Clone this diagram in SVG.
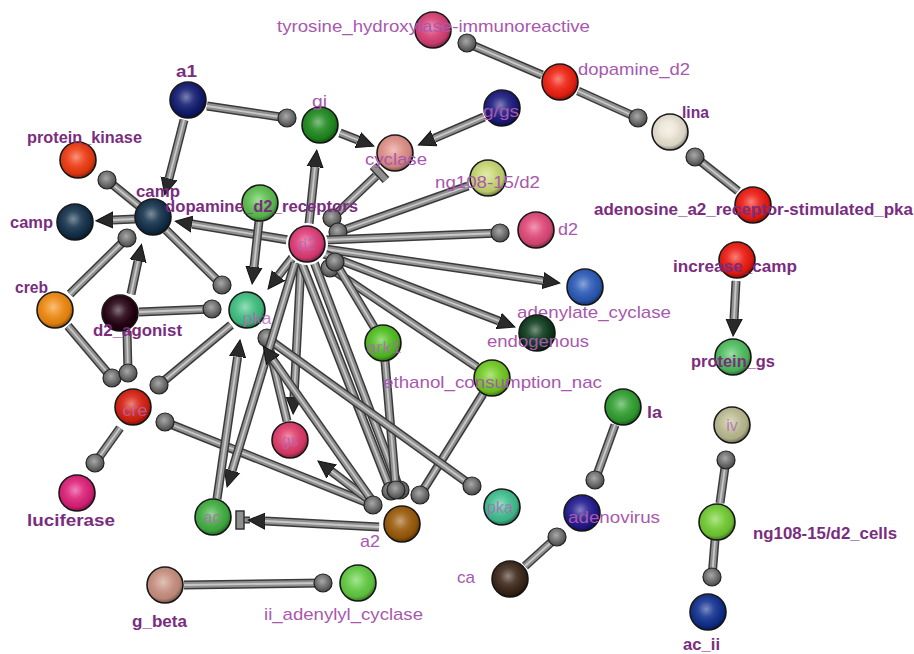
<svg xmlns="http://www.w3.org/2000/svg" width="914" height="654" viewBox="0 0 914 654">
<defs>
<radialGradient id="shade" cx="0.45" cy="0.42" r="0.62">
<stop offset="0" stop-color="#fff" stop-opacity="0.45"/>
<stop offset="0.35" stop-color="#fff" stop-opacity="0.12"/>
<stop offset="0.75" stop-color="#000" stop-opacity="0.08"/>
<stop offset="1" stop-color="#000" stop-opacity="0.55"/>
</radialGradient>
<radialGradient id="ballg" cx="0.45" cy="0.4" r="0.65">
<stop offset="0" stop-color="#a8a8a8"/>
<stop offset="1" stop-color="#404040"/>
</radialGradient>
<marker id="arr" viewBox="0 -9 18 18" refX="0" refY="0" markerWidth="18" markerHeight="18" markerUnits="userSpaceOnUse" orient="auto">
<path d="M0,-8 L17,0 L0,8 Z" fill="#2a2a2a" stroke="#111" stroke-width="1"/>
</marker>
</defs>
<style>
.o{fill:none;stroke:#3a3a3a;stroke-width:9}
.i{fill:none;stroke:#8f8f8f;stroke-width:6}
.h{fill:none;stroke:#c8c8c8;stroke-width:1.8}
.ball{fill:url(#ballg);stroke:#222;stroke-width:1.2}
.cap{fill:#8f8f8f;stroke:#333;stroke-width:1.5}
.b{stroke:#1a1a1a;stroke-width:1.6}
.sh{fill:url(#shade)}
text{font-family:"Liberation Sans",Arial,sans-serif}
.ln{font-size:17px;fill:#a858ae}
.lb{font-size:17px;font-weight:bold;fill:#7a2d7e}
.in{font-size:16px;fill:#b066b6;fill-opacity:0.8;text-anchor:middle}
</style>
<rect width="914" height="654" fill="#fff"/>
<g id="connectors">
<g id="c1"><path class="o" d="M467,43 L542,75"/><path class="i" d="M467,43 L542,75"/><path class="h" d="M467,43 L542,75"/><circle class="ball" cx="467" cy="43" r="9"/></g>
<g id="c2"><path class="o" d="M578,91 L638,118"/><path class="i" d="M578,91 L638,118"/><path class="h" d="M578,91 L638,118"/><circle class="ball" cx="638" cy="118" r="9"/></g>
<g id="c3"><path class="o" d="M695,157 L738,191"/><path class="i" d="M695,157 L738,191"/><path class="h" d="M695,157 L738,191"/><circle class="ball" cx="695" cy="157" r="9"/></g>
<g id="c4"><path class="o" d="M736,281 L734,319" marker-end="url(#arr)"/><path class="i" d="M736,281 L734,319"/><path class="h" d="M736,281 L734,319"/></g>
<g id="c5"><path class="o" d="M207,106 L287,118"/><path class="i" d="M207,106 L287,118"/><path class="h" d="M207,106 L287,118"/><circle class="ball" cx="287" cy="118" r="9"/></g>
<g id="c6"><path class="o" d="M184,120 L169,178.5" marker-end="url(#arr)"/><path class="i" d="M184,120 L169,178.5"/><path class="h" d="M184,120 L169,178.5"/></g>
<g id="c7"><path class="o" d="M340,133 L358,140" marker-end="url(#arr)"/><path class="i" d="M340,133 L358,140"/><path class="h" d="M340,133 L358,140"/></g>
<g id="c8"><path class="o" d="M484,117 L434,138.4" marker-end="url(#arr)"/><path class="i" d="M484,117 L434,138.4"/><path class="h" d="M484,117 L434,138.4"/></g>
<g id="c9"><path class="o" d="M309,224 L315,167" marker-end="url(#arr)"/><path class="i" d="M309,224 L315,167"/><path class="h" d="M309,224 L315,167"/></g>
<g id="c10"><path class="o" d="M288,240 L192,224" marker-end="url(#arr)"/><path class="i" d="M288,240 L192,224"/><path class="h" d="M288,240 L192,224"/></g>
<g id="c11"><path class="o" d="M135,219 L113,220" marker-end="url(#arr)"/><path class="i" d="M135,219 L113,220"/><path class="h" d="M135,219 L113,220"/></g>
<g id="c12"><path class="o" d="M107,180 L139,206"/><path class="i" d="M107,180 L139,206"/><path class="h" d="M107,180 L139,206"/><circle class="ball" cx="107" cy="180" r="9"/></g>
<g id="c13"><path class="o" d="M70,294 L127,238"/><path class="i" d="M70,294 L127,238"/><path class="h" d="M70,294 L127,238"/><circle class="ball" cx="127" cy="238" r="9"/></g>
<g id="c14"><path class="o" d="M131,294 L138,261" marker-end="url(#arr)"/><path class="i" d="M131,294 L138,261"/><path class="h" d="M131,294 L138,261"/></g>
<g id="c15"><path class="o" d="M166,230 L222,285"/><path class="i" d="M166,230 L222,285"/><path class="h" d="M166,230 L222,285"/><circle class="ball" cx="222" cy="285" r="9"/></g>
<g id="c16"><path class="o" d="M139,312 L212,309"/><path class="i" d="M139,312 L212,309"/><path class="h" d="M139,312 L212,309"/><circle class="ball" cx="212" cy="309" r="9"/></g>
<g id="c17"><path class="o" d="M259,221 L254,267" marker-end="url(#arr)"/><path class="i" d="M259,221 L254,267"/><path class="h" d="M259,221 L254,267"/></g>
<g id="c18"><path class="o" d="M293,257 L278.5,275.6" marker-end="url(#arr)"/><path class="i" d="M293,257 L278.5,275.6"/><path class="h" d="M293,257 L278.5,275.6"/></g>
<g id="c19"><path class="o" d="M231,325 L159,385"/><path class="i" d="M231,325 L159,385"/><path class="h" d="M231,325 L159,385"/><circle class="ball" cx="159" cy="385" r="9"/></g>
<g id="c20"><path class="o" d="M68,326 L112,378"/><path class="i" d="M68,326 L112,378"/><path class="h" d="M68,326 L112,378"/><circle class="ball" cx="112" cy="378" r="9"/></g>
<g id="c21"><path class="o" d="M127,331 L128,373"/><path class="i" d="M127,331 L128,373"/><path class="h" d="M127,331 L128,373"/><circle class="ball" cx="128" cy="373" r="9"/></g>
<g id="c22"><path class="o" d="M120,428 L95,463"/><path class="i" d="M120,428 L95,463"/><path class="h" d="M120,428 L95,463"/><circle class="ball" cx="95" cy="463" r="9"/></g>
<g id="c23"><path class="o" d="M165,422 L373,505"/><path class="i" d="M165,422 L373,505"/><path class="h" d="M165,422 L373,505"/><circle class="ball" cx="165" cy="422" r="9"/></g>
<g id="c24"><path class="o" d="M332,218 L376,176"/><path class="i" d="M332,218 L376,176"/><path class="h" d="M332,218 L376,176"/><path d="M373,166 L386,180" stroke="#333" stroke-width="9"/><path d="M373,166 L386,180" stroke="#8f8f8f" stroke-width="6"/><circle class="ball" cx="332" cy="218" r="9"/></g>
<g id="c25"><path class="o" d="M338,232 L468,186"/><path class="i" d="M338,232 L468,186"/><path class="h" d="M338,232 L468,186"/><circle class="ball" cx="338" cy="232" r="9"/></g>
<g id="c26"><path class="o" d="M326,240 L500,233"/><path class="i" d="M326,240 L500,233"/><path class="h" d="M326,240 L500,233"/><circle class="ball" cx="500" cy="233" r="9"/></g>
<g id="c27"><path class="o" d="M325,249 L543,280.6" marker-end="url(#arr)"/><path class="i" d="M325,249 L543,280.6"/><path class="h" d="M325,249 L543,280.6"/></g>
<g id="c28"><path class="o" d="M324,254 L499,321" marker-end="url(#arr)"/><path class="i" d="M324,254 L499,321"/><path class="h" d="M324,254 L499,321"/></g>
<g id="c29"><path class="o" d="M330,268 L477,367"/><path class="i" d="M330,268 L477,367"/><path class="h" d="M330,268 L477,367"/><circle class="ball" cx="330" cy="268" r="9"/></g>
<g id="c30"><path class="o" d="M335,262 L374,327"/><path class="i" d="M335,262 L374,327"/><path class="h" d="M335,262 L374,327"/><circle class="ball" cx="335" cy="262" r="9"/></g>
<g id="c31"><path class="o" d="M301,263 L294,397" marker-end="url(#arr)"/><path class="i" d="M301,263 L294,397"/><path class="h" d="M301,263 L294,397"/></g>
<g id="c32"><path class="o" d="M302,264 L391,491"/><path class="i" d="M302,264 L391,491"/><path class="h" d="M302,264 L391,491"/><circle class="ball" cx="391" cy="491" r="9"/></g>
<g id="c33"><path class="o" d="M314,262 L400,490"/><path class="i" d="M314,262 L400,490"/><path class="h" d="M314,262 L400,490"/><circle class="ball" cx="400" cy="490" r="9"/></g>
<g id="c34"><path class="o" d="M385,361 L396,490"/><path class="i" d="M385,361 L396,490"/><path class="h" d="M385,361 L396,490"/><circle class="ball" cx="396" cy="490" r="9"/></g>
<g id="c35"><path class="o" d="M483,394 L420,495"/><path class="i" d="M483,394 L420,495"/><path class="h" d="M483,394 L420,495"/><circle class="ball" cx="420" cy="495" r="9"/></g>
<g id="c36"><path class="o" d="M373,503 L331.5,471.3" marker-end="url(#arr)"/><path class="i" d="M373,503 L331.5,471.3"/><path class="h" d="M373,503 L331.5,471.3"/></g>
<g id="c37"><path class="o" d="M267,338 L472,486"/><path class="i" d="M267,338 L472,486"/><path class="h" d="M267,338 L472,486"/><circle class="ball" cx="472" cy="486" r="9"/></g>
<g id="c38"><path class="o" d="M287,421 L267,338"/><path class="i" d="M287,421 L267,338"/><path class="h" d="M287,421 L267,338"/><circle class="ball" cx="267" cy="338" r="9"/></g>
<g id="c39"><path class="o" d="M295,263 L232,470.7" marker-end="url(#arr)"/><path class="i" d="M295,263 L232,470.7"/><path class="h" d="M295,263 L232,470.7"/></g>
<g id="c40"><path class="o" d="M217,499 L237.6,356.8" marker-end="url(#arr)"/><path class="i" d="M217,499 L237.6,356.8"/><path class="h" d="M217,499 L237.6,356.8"/></g>
<g id="c41"><path class="o" d="M373,502 L273,360" marker-end="url(#arr)"/><path class="i" d="M373,502 L273,360"/><path class="h" d="M373,502 L273,360"/><circle class="ball" cx="373" cy="505" r="9"/></g>
<g id="c42"><path d="M242,520 L250,520" stroke="#3a3a3a" stroke-width="7"/><path d="M242,520 L250,520" stroke="#8f8f8f" stroke-width="4"/><path class="o" d="M379,527 L265,521" marker-end="url(#arr)"/><path class="i" d="M379,527 L265,521"/><path class="h" d="M379,527 L265,521"/><rect class="cap" x="236" y="511" width="8" height="18"/></g>
<g id="c43"><path class="o" d="M184,585 L323,583"/><path class="i" d="M184,585 L323,583"/><path class="h" d="M184,585 L323,583"/><circle class="ball" cx="323" cy="583" r="9"/></g>
<g id="c44"><path class="o" d="M615,425 L595,480"/><path class="i" d="M615,425 L595,480"/><path class="h" d="M615,425 L595,480"/><circle class="ball" cx="595" cy="480" r="9"/></g>
<g id="c45"><path class="o" d="M525,566 L557,537"/><path class="i" d="M525,566 L557,537"/><path class="h" d="M525,566 L557,537"/><circle class="ball" cx="557" cy="537" r="9"/></g>
<g id="c46"><path class="o" d="M720,503 L726,460"/><path class="i" d="M720,503 L726,460"/><path class="h" d="M720,503 L726,460"/><circle class="ball" cx="726" cy="460" r="9"/></g>
<g id="c47"><path class="o" d="M715,540 L712,577"/><path class="i" d="M715,540 L712,577"/><path class="h" d="M715,540 L712,577"/><circle class="ball" cx="712" cy="577" r="9"/></g>
</g>
<g id="nodes">
<g id="n-tyrosine"><circle class="b" cx="433" cy="30" r="18" fill="#d94075"/><circle class="sh" cx="433" cy="30" r="18"/><text class="ln" x="277" y="32" textLength="313" lengthAdjust="spacingAndGlyphs">tyrosine_hydroxylase-immunoreactive</text></g>
<g id="n-dopamine_d2"><circle class="b" cx="560" cy="82" r="18" fill="#f02010"/><circle class="sh" cx="560" cy="82" r="18"/><text class="ln" x="578" y="75" textLength="112" lengthAdjust="spacingAndGlyphs">dopamine_d2</text></g>
<g id="n-lina"><circle class="b" cx="670" cy="132" r="18" fill="#ebe5d5"/><circle class="sh" cx="670" cy="132" r="18"/><text class="lb" x="682" y="118" textLength="27" lengthAdjust="spacingAndGlyphs">lina</text></g>
<g id="n-adenosine"><circle class="b" cx="753" cy="205" r="18" fill="#ee1a10"/><circle class="sh" cx="753" cy="205" r="18"/><text class="lb" x="594" y="215" textLength="319" lengthAdjust="spacingAndGlyphs">adenosine_a2_receptor-stimulated_pka</text></g>
<g id="n-increase_camp"><circle class="b" cx="737" cy="260" r="18" fill="#ee1a10"/><circle class="sh" cx="737" cy="260" r="18"/><text class="lb" x="673" y="272" textLength="124" lengthAdjust="spacingAndGlyphs">increase_camp</text></g>
<g id="n-protein_gs"><circle class="b" cx="733" cy="357" r="18" fill="#4fbf5f"/><circle class="sh" cx="733" cy="357" r="18"/><text class="lb" x="691" y="367" textLength="84" lengthAdjust="spacingAndGlyphs">protein_gs</text></g>
<g id="n-a1"><circle class="b" cx="188" cy="100" r="18" fill="#101a70"/><circle class="sh" cx="188" cy="100" r="18"/><text class="lb" x="176" y="77" textLength="21" lengthAdjust="spacingAndGlyphs">a1</text></g>
<g id="n-gi"><circle class="b" cx="320" cy="125" r="18" fill="#1e8a1e"/><circle class="sh" cx="320" cy="125" r="18"/><text class="ln" x="312" y="107" textLength="15" lengthAdjust="spacingAndGlyphs">gi</text></g>
<g id="n-cyclase"><circle class="b" cx="395" cy="153" r="18" fill="#e09088"/><circle class="sh" cx="395" cy="153" r="18"/><text class="ln" x="365" y="165" textLength="62" lengthAdjust="spacingAndGlyphs">cyclase</text></g>
<g id="n-g_gs"><circle class="b" cx="502" cy="108" r="18" fill="#1a1a80"/><circle class="sh" cx="502" cy="108" r="18"/><text class="ln" x="483" y="117" textLength="36" lengthAdjust="spacingAndGlyphs">g/gs</text></g>
<g id="n-ng108_d2"><circle class="b" cx="488" cy="178" r="18" fill="#cad873"/><circle class="sh" cx="488" cy="178" r="18"/><text class="ln" x="435" y="188" textLength="105" lengthAdjust="spacingAndGlyphs">ng108-15/d2</text></g>
<g id="n-d2_right"><circle class="b" cx="536" cy="230" r="18" fill="#e04878"/><circle class="sh" cx="536" cy="230" r="18"/><text class="ln" x="558" y="235" textLength="20" lengthAdjust="spacingAndGlyphs">d2</text></g>
<g id="n-protein_kinase"><circle class="b" cx="78" cy="160" r="18" fill="#ef3a10"/><circle class="sh" cx="78" cy="160" r="18"/><text class="lb" x="27" y="143" textLength="115" lengthAdjust="spacingAndGlyphs">protein_kinase</text></g>
<g id="n-camp_center"><circle class="b" cx="153" cy="217" r="18" fill="#12304a"/><circle class="sh" cx="153" cy="217" r="18"/><text class="lb" x="136" y="197" textLength="44" lengthAdjust="spacingAndGlyphs">camp</text></g>
<g id="n-camp_left"><circle class="b" cx="75" cy="222" r="18" fill="#12304a"/><circle class="sh" cx="75" cy="222" r="18"/><text class="lb" x="10" y="228" textLength="43" lengthAdjust="spacingAndGlyphs">camp</text></g>
<g id="n-dopamine_d2_receptors"><circle class="b" cx="260" cy="203" r="18" fill="#5cc050"/><circle class="sh" cx="260" cy="203" r="18"/><text class="lb" x="165" y="212" textLength="193" lengthAdjust="spacingAndGlyphs">dopamine_d2_receptors</text></g>
<g id="n-d2_hub"><circle cx="307" cy="244" r="21" fill="#fff"/><circle class="b" cx="307" cy="244" r="18" fill="#e03c78"/><circle class="sh" cx="307" cy="244" r="18"/><text class="in" x="307" y="250">d2</text></g>
<g id="n-creb"><circle class="b" cx="55" cy="310" r="18" fill="#f08a10"/><circle class="sh" cx="55" cy="310" r="18"/><text class="lb" x="15" y="293" textLength="33" lengthAdjust="spacingAndGlyphs">creb</text></g>
<g id="n-d2_agonist"><circle class="b" cx="120" cy="313" r="18" fill="#230010"/><circle class="sh" cx="120" cy="313" r="18"/><text class="lb" x="93" y="336" textLength="89" lengthAdjust="spacingAndGlyphs">d2_agonist</text></g>
<g id="n-pka"><circle class="b" cx="247" cy="310" r="18" fill="#40c080"/><circle class="sh" cx="247" cy="310" r="18"/><text class="in" x="257" y="324" textLength="29" lengthAdjust="spacingAndGlyphs">pka</text></g>
<g id="n-cre"><circle class="b" cx="133" cy="407" r="18" fill="#d82010"/><circle class="sh" cx="133" cy="407" r="18"/><text class="in" x="135" y="416" textLength="25" lengthAdjust="spacingAndGlyphs">cre</text></g>
<g id="n-luciferase"><circle class="b" cx="77" cy="493" r="18" fill="#e0207a"/><circle class="sh" cx="77" cy="493" r="18"/><text class="lb" x="27" y="526" textLength="88" lengthAdjust="spacingAndGlyphs">luciferase</text></g>
<g id="n-gs"><circle class="b" cx="290" cy="440" r="18" fill="#e03a68"/><circle class="sh" cx="290" cy="440" r="18"/><text class="in" x="290" y="446">gs</text></g>
<g id="n-ark1"><circle class="b" cx="383" cy="343" r="18" fill="#50c020"/><circle class="sh" cx="383" cy="343" r="18"/><text class="in" x="384" y="353" textLength="35" lengthAdjust="spacingAndGlyphs">ark1</text></g>
<g id="n-ethanol"><circle class="b" cx="492" cy="378" r="18" fill="#72cc22"/><circle class="sh" cx="492" cy="378" r="18"/><text class="ln" x="383" y="388" textLength="219" lengthAdjust="spacingAndGlyphs">ethanol_consumption_nac</text></g>
<g id="n-adenylate_cyclase"><circle class="b" cx="585" cy="287" r="18" fill="#2a5ab8"/><circle class="sh" cx="585" cy="287" r="18"/><text class="ln" x="517" y="318" textLength="154" lengthAdjust="spacingAndGlyphs">adenylate_cyclase</text></g>
<g id="n-endogenous"><circle class="b" cx="537" cy="333" r="18" fill="#0c3a1c"/><circle class="sh" cx="537" cy="333" r="18"/><text class="ln" x="487" y="347" textLength="102" lengthAdjust="spacingAndGlyphs">endogenous</text></g>
<g id="n-la"><circle class="b" cx="623" cy="407" r="18" fill="#30a030"/><circle class="sh" cx="623" cy="407" r="18"/><text class="lb" x="647" y="418" textLength="15" lengthAdjust="spacingAndGlyphs">la</text></g>
<g id="n-adenovirus"><circle class="b" cx="582" cy="513" r="18" fill="#221a90"/><circle class="sh" cx="582" cy="513" r="18"/><text class="ln" x="568" y="523" textLength="92" lengthAdjust="spacingAndGlyphs">adenovirus</text></g>
<g id="n-ca"><circle class="b" cx="510" cy="579" r="18" fill="#3c2618"/><circle class="sh" cx="510" cy="579" r="18"/><text class="ln" x="457" y="583" textLength="18" lengthAdjust="spacingAndGlyphs">ca</text></g>
<g id="n-iv"><circle class="b" cx="732" cy="425" r="18" fill="#bcbc92"/><circle class="sh" cx="732" cy="425" r="18"/><text class="in" x="732" y="431">iv</text></g>
<g id="n-ng108_cells"><circle class="b" cx="717" cy="522" r="18" fill="#72cc32"/><circle class="sh" cx="717" cy="522" r="18"/><text class="lb" x="753" y="539" textLength="144" lengthAdjust="spacingAndGlyphs">ng108-15/d2_cells</text></g>
<g id="n-ac_ii"><circle class="b" cx="708" cy="612" r="18" fill="#103090"/><circle class="sh" cx="708" cy="612" r="18"/><text class="lb" x="683" y="650" textLength="37" lengthAdjust="spacingAndGlyphs">ac_ii</text></g>
<g id="n-ac"><circle class="b" cx="213" cy="517" r="18" fill="#40b040"/><circle class="sh" cx="213" cy="517" r="18"/><text class="in" x="212" y="523">ac</text></g>
<g id="n-a2"><circle class="b" cx="402" cy="524" r="18" fill="#9a5a08"/><circle class="sh" cx="402" cy="524" r="18"/><text class="ln" x="360" y="547" textLength="20" lengthAdjust="spacingAndGlyphs">a2</text></g>
<g id="n-pka_lower"><circle class="b" cx="502" cy="507" r="18" fill="#40c090"/><circle class="sh" cx="502" cy="507" r="18"/><text class="in" x="500" y="513">pka</text></g>
<g id="n-g_beta"><circle class="b" cx="165" cy="585" r="18" fill="#c89080"/><circle class="sh" cx="165" cy="585" r="18"/><text class="lb" x="132" y="627" textLength="55" lengthAdjust="spacingAndGlyphs">g_beta</text></g>
<g id="n-ii_adenylyl_cyclase"><circle class="b" cx="358" cy="583" r="18" fill="#62cc42"/><circle class="sh" cx="358" cy="583" r="18"/><text class="ln" x="264" y="620" textLength="159" lengthAdjust="spacingAndGlyphs">ii_adenylyl_cyclase</text></g>
</g>
</svg>
